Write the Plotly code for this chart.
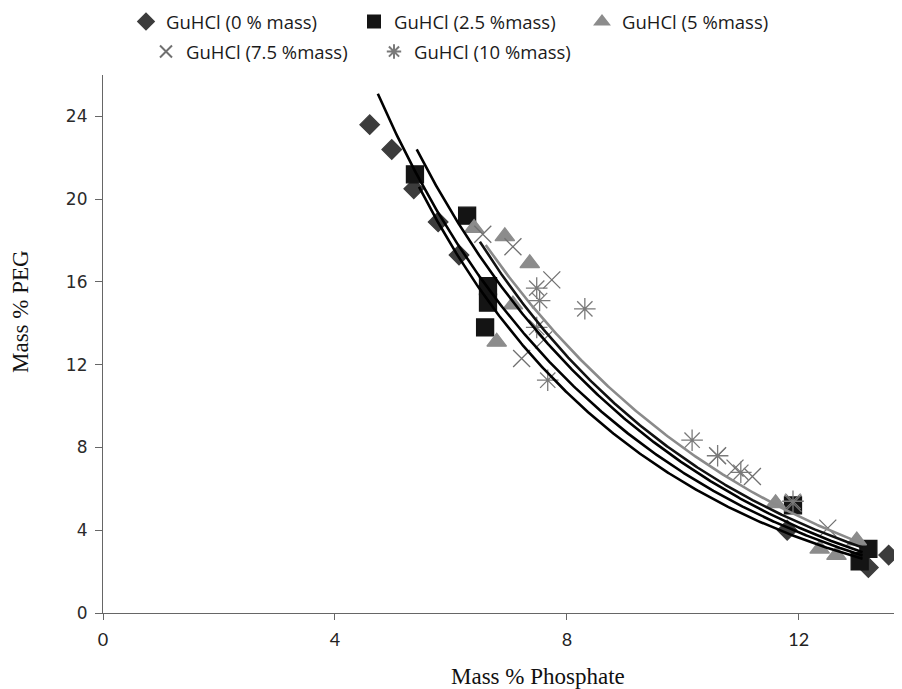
import numpy as np
import plotly.graph_objects as go

# ---- scatter data (Mass % Phosphate, Mass % PEG) ----
g0_x = [4.60, 4.98, 5.36, 5.78, 6.14, 11.80, 13.20, 13.55]
g0_y = [23.6, 22.4, 20.5, 18.9, 17.3, 4.0, 2.2, 2.8]

g25_x = [5.38, 6.28, 6.64, 6.64, 6.59, 11.90, 13.05, 13.20]
g25_y = [21.2, 19.2, 15.8, 15.0, 13.8, 5.2, 2.5, 3.1]

g5_x = [6.40, 6.93, 7.36, 7.07, 6.79, 11.60, 12.36, 12.65, 13.00]
g5_y = [18.6, 18.2, 16.9, 14.9, 13.1, 5.3, 3.1, 2.8, 3.5]

g75_x = [6.55, 7.07, 7.74, 7.22, 7.60, 10.60, 10.90, 11.20, 11.90, 12.50]
g75_y = [18.3, 17.7, 16.1, 12.3, 13.2, 7.6, 7.0, 6.6, 5.3, 4.1]

g10_x = [7.48, 7.53, 8.31, 7.48, 7.67, 10.16, 10.60, 11.00, 11.90]
g10_y = [15.7, 15.1, 14.7, 13.8, 11.25, 8.35, 7.6, 6.8, 5.4]

# ---- points ----
c1_x = [5.45, 6.16, 8.10, 8.57, 10.29, 11.33, 13.10]
c1_y = [20.9, 16.8, 10.3, 9.3, 5.8, 4.49, 2.6]
c2_x = [4.74, 6.45, 8.34, 8.57, 10.29, 11.33, 13.10]
c2_y = [24.9, 16.8, 10.3, 9.75, 6.04, 4.97, 2.75]
c3_x = [5.41, 6.79, 8.57, 10.29, 11.33, 13.10]
c3_y = [22.0, 16.8, 10.2, 6.42, 5.3, 2.9]
c4_x = [6.50, 8.57, 8.74, 10.29, 11.33, 13.10]
c4_y = [18.2, 10.5, 10.3, 6.8, 5.6, 3.1]
c5_x = [6.60, 8.57, 9.00, 10.29, 11.33, 13.10]
c5_y = [18.0, 11.0, 10.3, 7.24, 5.94, 3.3]

x_ticks = [0, 4, 8, 12]
y_ticks = [0, 4, 8, 12, 16, 20, 24]


def merchuk(xs, ys):
    xs = np.array(xs, float)
    ys = np.array(ys, float)
    A = np.column_stack([np.ones_like(xs), np.sqrt(xs), xs ** 3])
    p, *_ = np.linalg.lstsq(A, np.log(ys), rcond=None)
    xx = np.linspace(xs.min(), xs.max(), 300)
    yy = np.exp(p[0] + p[1] * np.sqrt(xx) + p[2] * xx ** 3)
    return xx, yy


fig = go.Figure()

series = [
    ("GuHCl (0 % mass)", g0_x, g0_y, "diamond", "#3c3c3c", 15, "legend"),
    ("GuHCl (2.5 %mass)", g25_x, g25_y, "square", "#141414", 17, "legend"),
    ("GuHCl (5 %mass)", g5_x, g5_y, "triangle-up", "#8c8c8c", 17, "legend"),
    ("GuHCl (7.5 %mass)", g75_x, g75_y, "x-thin-open", "#707070", 17, "legend2"),
    ("GuHCl (10 %mass)", g10_x, g10_y, "asterisk-open", "#7a7a7a", 18, "legend2"),
]
for name, xs, ys, sym, col, size, lg in series:
    fig.add_trace(go.Scatter(
        x=xs, y=ys, mode="markers", name=name, legend=lg,
        marker=dict(symbol=sym, color=col, size=size,
                    line=dict(color=col, width=1.3)),
    ))

curves = [(c1_x, c1_y, "#000000"), (c2_x, c2_y, "#000000"),
          (c3_x, c3_y, "#000000"), (c4_x, c4_y, "#111111"),
          (c5_x, c5_y, "#8a8a8a")]
for cx, cy, col in curves:
    xx, yy = merchuk(cx, cy)
    fig.add_trace(go.Scatter(x=xx, y=yy, mode="lines", showlegend=False,
                             line=dict(color=col, width=2.6), hoverinfo="skip"))

# page has an 8px body margin: figure spans page px 8..902 / 8..689
OFF = 8
PL, PT, PW, PH = 103, 75, 799.0, 538.0   # plot area in page pixels
PB = 613


def px(x):
    return (x - PL) / PW


def py(y):
    return (PB - y) / PH


legend_font = dict(family="Open Sans", size=18.5, color="#1a1a1a")
fig.update_layout(
    width=902 - OFF, height=689 - OFF,
    paper_bgcolor="white", plot_bgcolor="white",
    margin=dict(l=PL - OFF, r=0, t=PT - OFF, b=689 - PB, autoexpand=False),
    showlegend=True,
    legend=dict(orientation="h", x=px(126), xref="paper",
                y=py(22), yanchor="middle", xanchor="left",
                font=legend_font, itemsizing="constant",
                entrywidth=183, entrywidthmode="pixels",
                bgcolor="rgba(0,0,0,0)"),
    legend2=dict(orientation="h", x=px(146), xref="paper",
                 y=py(52), yanchor="middle", xanchor="left",
                 font=legend_font, itemsizing="constant",
                 entrywidth=183, entrywidthmode="pixels",
                 bgcolor="rgba(0,0,0,0)"),
    xaxis=dict(range=[0, 13.78], tickvals=x_ticks, showgrid=False,
               zeroline=False, showline=True, linecolor="#666", linewidth=1.2,
               ticks="outside", ticklen=6, tickcolor="#666",
               ticklabelstandoff=4,
               tickfont=dict(family="Lato", size=18, color="#222")),
    yaxis=dict(range=[0, 26], tickvals=y_ticks, showgrid=False,
               zeroline=False, showline=True, linecolor="#666", linewidth=1.2,
               ticks="outside", ticklen=7, tickcolor="#666",
               ticklabelstandoff=4,
               tickfont=dict(family="DejaVu Sans", size=17, color="#2a2a2a")),
    annotations=[
        dict(text="Mass % Phosphate", x=px(538), y=py(676),
             xref="paper", yref="paper", showarrow=False,
             xanchor="center", yanchor="middle",
             font=dict(family="Liberation Serif", size=23, color="#111")),
        dict(text="Mass % PEG", x=px(20), y=py(312),
             xref="paper", yref="paper", showarrow=False, textangle=-90,
             xanchor="center", yanchor="middle",
             font=dict(family="Liberation Serif", size=23, color="#111")),
    ],
)

fig.write_html("out.html")
